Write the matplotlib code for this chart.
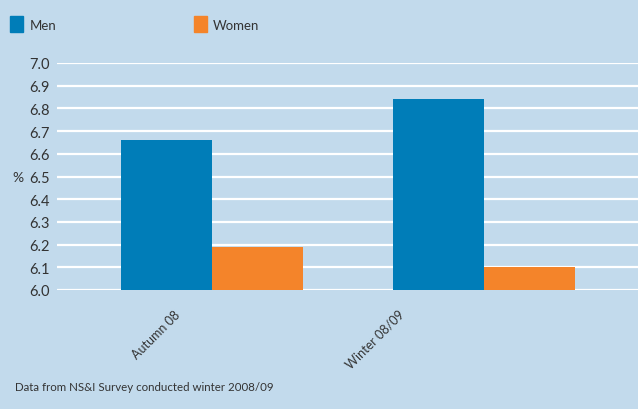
import numpy as np
import matplotlib
matplotlib.use("Agg")
import matplotlib.pyplot as plt
from matplotlib.transforms import ScaledTranslation
from matplotlib.patches import Rectangle

# survey results, percent
periods = ["Autumn 08", "Winter 08/09"]
men = [6.66, 6.84]
women = [6.19, 6.10]
yticks = [6.0, 6.1, 6.2, 6.3, 6.4, 6.5, 6.6, 6.7, 6.8, 6.9, 7.0]

bg = "#C2DAEC"
blue = "#007DB8"
orange = "#F4842A"
ink = "#333333"

plt.rcParams["font.family"] = ["Lato", "DejaVu Sans"]

fig = plt.figure(figsize=(6.38, 4.10), dpi=100, facecolor=bg)
ax = fig.add_axes([57 / 638, 119 / 410, 1 - 57 / 638, 227 / 410])
ax.set_facecolor(bg)

x = np.arange(len(periods))
w = 0.335
ax.bar(x - w / 2, np.array(men) - 6.0, w, bottom=6.0, color=blue, zorder=3)
ax.bar(x + w / 2, np.array(women) - 6.0, w, bottom=6.0, color=orange, zorder=3)

ax.set_xlim(-0.57, 1.566)
ax.set_ylim(6.0, 7.0)
ax.set_yticks(yticks, [f"{v:.1f}" for v in yticks])
ax.yaxis.grid(True, color="white", linewidth=1.6, zorder=1)
ax.set_axisbelow(True)
for s in ax.spines.values():
    s.set_visible(False)
ax.tick_params(axis="y", length=0, pad=5, labelsize=10.5, labelcolor=ink)
ax.tick_params(axis="x", length=0, pad=0, labelsize=9, labelcolor=ink)

ax.set_xticks(x, periods, rotation=45, ha="right", va="center", rotation_mode="anchor")
for lab, dx in zip(ax.get_xticklabels(), [-34, -82]):
    lab.set_transform(lab.get_transform() + ScaledTranslation(dx / 100, -22 / 100, fig.dpi_scale_trans))

fig.text(12 / 638, 1 - 178 / 410, "%", fontsize=10, color=ink, va="center", ha="left")

# legend drawn by hand across the top
for sx, tx, col, name in [(10, 30, blue, "Men"), (194, 213, orange, "Women")]:
    fig.patches.append(Rectangle((sx / 638, 1 - 33 / 410), 13 / 638, 16 / 410,
                                 transform=fig.transFigure, color=col))
    fig.text(tx / 638, 1 - 26 / 410, name, fontsize=9.5, color=ink, va="center", ha="left")

fig.text(15 / 638, 1 - 388 / 410, "Data from NS&I Survey conducted winter 2008/09",
         fontsize=8.3, color=ink, va="center", ha="left")

fig.savefig("out.png", dpi=100, facecolor=bg)
